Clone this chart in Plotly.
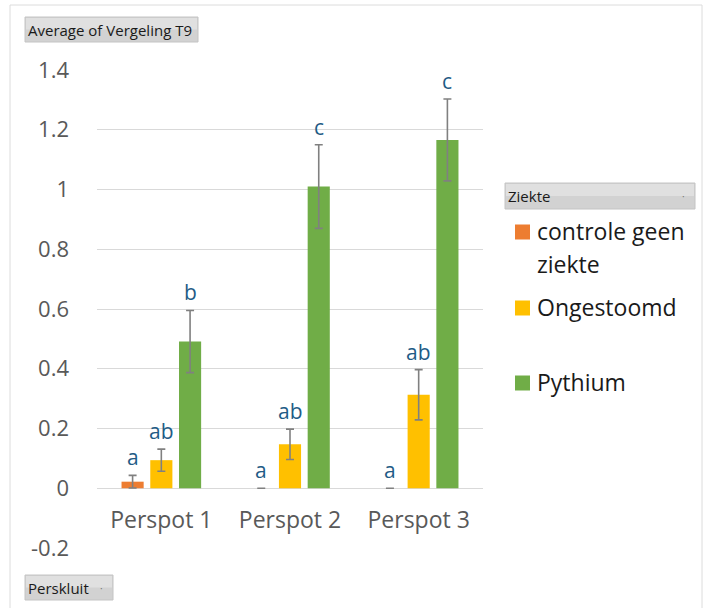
import plotly.graph_objects as go

categories = ["Perspot 1", "Perspot 2", "Perspot 3"]
series_names = ["controle geen ziekte", "Ongestoomd", "Pythium"]
controle = [0.022, 0.0, 0.0]
controle_err = [0.021, 0.0, 0.0]
ongestoomd = [0.094, 0.147, 0.313]
ongestoomd_err = [0.037, 0.051, 0.084]
pythium = [0.491, 1.010, 1.166]
pythium_err = [0.104, 0.140, 0.137]
controle_letters = ["a", "a", "a"]
ongestoomd_letters = ["ab", "ab", "ab"]
pythium_letters = ["b", "c", "c"]
y_ticks = [-0.2, 0, 0.2, 0.4, 0.6, 0.8, 1, 1.2, 1.4]
y_tick_labels = ["-0.2", "0", "0.2", "0.4", "0.6", "0.8", "1", "1.2", "1.4"]

colors = ["#ED7D31", "#FFC000", "#70AD47"]
FONT = "Open Sans"
W, H = 707, 608
L, R, T, B = 97, 224, 70, 60
PW, PH = W - L - R, H - T - B


def px(x):
    return (x - L) / PW


def py(y):
    return 1 - (y - T) / PH


fig = go.Figure()
vals = [controle, ongestoomd, pythium]
errs = [controle_err, ongestoomd_err, pythium_err]
letters = [controle_letters, ongestoomd_letters, pythium_letters]
for name, v, e, c in zip(series_names, vals, errs, colors):
    fig.add_trace(go.Bar(
        x=categories, y=v, name=name, marker_color=c,
        marker_line=dict(width=0),
        error_y=dict(type="data", array=e, visible=True, color="#808080",
                     thickness=1.6, width=4),
        showlegend=False, hoverinfo="skip",
    ))

bargap = 0.33
slot = (1 - bargap) / 3
offsets = [-slot, 0, slot]
for s in range(3):
    for i in range(3):
        fig.add_annotation(
            x=i + offsets[s], y=vals[s][i] + errs[s][i], xref="x", yref="y",
            text=letters[s][i], showarrow=False, yanchor="bottom", yshift=2,
            font=dict(family=FONT, size=21, color="#1F5C86"),
        )

# legend (manual, Excel pivot style)
leg_squares = [232, 308, 383]
leg_lines = [("controle geen", 231), ("ziekte", 264), ("Ongestoomd", 307), ("Pythium", 382)]
shapes = []
annots = []
for sq_y, c in zip(leg_squares, colors):
    shapes.append(dict(type="rect", xref="paper", yref="paper",
                       x0=px(515), x1=px(530), y0=py(sq_y + 7.5), y1=py(sq_y - 7.5),
                       fillcolor=c, line=dict(width=0)))
for txt, ty in leg_lines:
    annots.append(dict(xref="paper", yref="paper", x=px(535), y=py(ty),
                       xanchor="left", yanchor="middle", showarrow=False, align="left",
                       text=txt, font=dict(family=FONT, size=23, color="#1a1a1a")))

# grey field buttons
boxes = [(505, 695, 183, 209, "Ziekte", True), (25, 198, 17, 42, "Average of Vergeling T9", False),
         (25, 113, 575, 600, "Perskluit", True)]
for x0, x1, y0, y1, txt, dot in boxes:
    shapes.append(dict(type="rect", xref="paper", yref="paper",
                       x0=px(x0), x1=px(x1), y0=py(y1), y1=py(y0),
                       fillcolor="#d2d2d2", line=dict(color="#c4c4c4", width=1)))
    shapes.append(dict(type="rect", xref="paper", yref="paper",
                       x0=px(x0 + 1), x1=px(x1 - 1), y0=py((y0 + y1) / 2), y1=py(y0 + 1),
                       fillcolor="#e0e0e0", line=dict(width=0)))
    annots.append(dict(xref="paper", yref="paper", x=px(x0 + 1), y=py((y0 + y1) / 2),
                       xanchor="left", yanchor="middle", showarrow=False,
                       text=txt, font=dict(family=FONT, size=15, color="#1a1a1a")))
    if dot:
        annots.append(dict(xref="paper", yref="paper", x=px(x1 - 12), y=py((y0 + y1) / 2),
                           xanchor="center", yanchor="middle", showarrow=False,
                           text="·", font=dict(family=FONT, size=10, color="#777777")))

# outer frame
shapes.append(dict(type="rect", xref="paper", yref="paper", layer="below",
                   x0=px(10), x1=px(702), y0=py(640), y1=py(5),
                   fillcolor="rgba(0,0,0,0)", line=dict(color="#dcdcdc", width=1)))

for a in annots:
    fig.add_annotation(**a)

fig.update_layout(
    width=W, height=H,
    margin=dict(l=L, r=R, t=T, b=B),
    paper_bgcolor="white", plot_bgcolor="white",
    barmode="group", bargap=bargap, bargroupgap=0.23,
    shapes=shapes,
    font=dict(family=FONT, color="#595959"),
    xaxis=dict(type="category", range=[-0.5, 2.5], showgrid=False, showline=False,
               ticks="", anchor="free", position=0.125, ticklabelstandoff=16,
               tickfont=dict(family=FONT, size=23, color="#595959"), zeroline=False),
    yaxis=dict(range=[-0.2, 1.4], tickvals=y_ticks, ticktext=y_tick_labels,
               showgrid=True, gridcolor="#d9d9d9", gridwidth=1, zeroline=True,
               zerolinecolor="#d9d9d9", zerolinewidth=1, showline=False, ticks="",
               ticklabelstandoff=27,
               tickfont=dict(family=FONT, size=22, color="#595959")),
)

fig.write_html("out.html", config={"displayModeBar": False},
               post_script="document.body.style.margin='0px';document.body.style.padding='0px';")
